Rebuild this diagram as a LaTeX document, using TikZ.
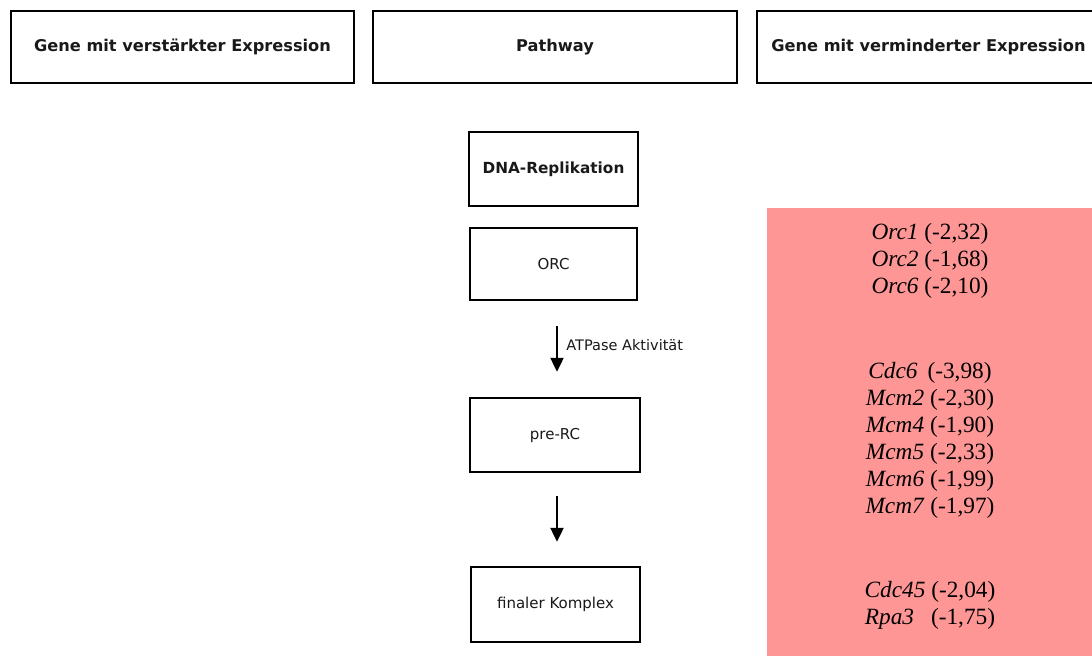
\documentclass[tikz,border=0pt]{standalone}
\usepackage{fontspec}
\setmainfont{Liberation Serif}
\newfontfamily\dejavu{DejaVu Sans}
\usetikzlibrary{arrows.meta}
\definecolor{panelred}{RGB}{255,150,150}
\definecolor{txtgray}{RGB}{25,25,25}
\tikzset{
  headbox/.style={draw=black, line width=2.4pt, minimum width=343pt, minimum height=72pt, inner sep=0pt,
    text=txtgray, font=\dejavu\bfseries\fontsize{16.2}{19}\selectfont},
  pathbox/.style={draw=black, line width=2.4pt, minimum width=168pt, minimum height=73pt, inner sep=0pt,
    text=txtgray, font=\dejavu\fontsize{15}{18}\selectfont},
  flowarrow/.style={line width=2.2pt, -{Triangle[length=14pt,width=13pt]}},
  genes/.style={align=center, text=black, font=\fontsize{23.3}{27}\selectfont, inner sep=0pt}
}
\begin{document}
\begin{tikzpicture}[x=1pt,y=-1pt]
\useasboundingbox (0,0) rectangle (1092,656);
\clip (0,0) rectangle (1092,656);
\fill[white] (0,0) rectangle (1092,656);
% headers
\node[headbox] (h1) at (182.5,47) {Gene mit verstärkter Expression};
\node[headbox, minimum width=364pt] (h2) at (555,47) {Pathway};
\node[headbox] (h3) at (928.5,47) {Gene mit verminderter Expression};
% red panel
\fill[panelred] (767,208) rectangle (1092,656);
% pathway boxes
\node[pathbox, font=\dejavu\bfseries\fontsize{15.3}{18}\selectfont, minimum height=74pt, minimum width=169pt] (dna) at (553.5,169) {DNA-Replikation};
\node[pathbox, minimum width=167pt, minimum height=72pt] (orc) at (553.5,264) {ORC};
\node[pathbox, minimum width=170pt, minimum height=74pt] (prerc) at (555,435) {pre-RC};
\node[pathbox, minimum width=169pt, minimum height=75pt] (final) at (555.5,604.5) {finaler Komplex};
% arrows
\draw[flowarrow, shorten <=25pt, shorten >=25pt] ([xshift=3.5pt]orc.south) -- ([xshift=2pt]prerc.north)
  node[midway, anchor=west, xshift=5pt, yshift=4pt, text=txtgray, font=\dejavu\fontsize{14.5}{17}\selectfont] (atp) {ATPase Aktivität};
\draw[flowarrow, shorten <=23pt, shorten >=24pt] ([xshift=2pt]prerc.south) -- ([xshift=1.5pt]final.north);
% gene lists
\node[genes] (g1) at (930,260.5) {\textit{Orc1} (-2,32)\\ \textit{Orc2} (-1,68)\\ \textit{Orc6} (-2,10)};
\node[genes] (g2) at (930,440) {\textit{Cdc6}\hspace{10pt}(-3,98)\\ \textit{Mcm2} (-2,30)\\ \textit{Mcm4} (-1,90)\\ \textit{Mcm5} (-2,33)\\ \textit{Mcm6} (-1,99)\\ \textit{Mcm7} (-1,97)};
\node[genes] (g3) at (930,605.5) {\textit{Cdc45} (-2,04)\\ \textit{Rpa3}\hspace{17pt}(-1,75)};
\end{tikzpicture}
\end{document}
